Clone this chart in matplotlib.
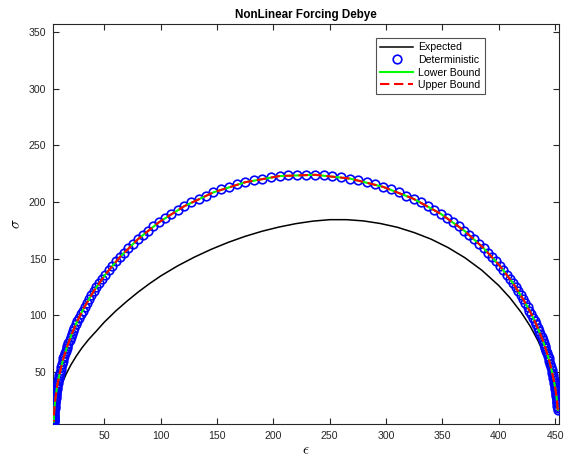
import matplotlib
matplotlib.use("Agg")
import matplotlib.pyplot as plt

plt.rcParams['font.family'] = ['Liberation Sans', 'DejaVu Sans']
plt.rcParams['mathtext.fontset'] = 'cm'

# Deterministic Debye response (epsilon, sigma), from the low-frequency end to the high-frequency end
det_eps = [452.4, 452.3, 452.1,
           451.9, 451.8, 451.6, 451.5, 451.3, 451.2, 451.0, 450.8, 450.5, 450.3,
           450.0, 449.7, 449.3, 448.9, 448.5, 448.0, 447.5, 446.9, 446.3, 445.6,
           444.9, 444.3, 443.7, 443.0, 442.3, 441.5, 440.7, 439.9, 439.0, 438.0,
           436.9, 435.8, 434.6, 433.3, 432.0, 430.5, 429.0, 427.3, 425.6, 423.7,
           421.7, 419.6, 417.4, 415.1, 412.6, 409.9, 407.1, 404.1, 401.0, 397.7,
           394.2, 390.5, 386.7, 382.6, 378.4, 373.9, 369.3, 364.4, 359.3, 354.0,
           348.5, 342.8, 336.9, 330.8, 324.4, 317.9, 311.2, 304.4, 297.3, 290.1,
           282.8, 275.4, 267.8, 260.2, 252.4, 244.7, 236.8, 229.0, 221.2, 213.3,
           205.6, 197.9, 190.2, 182.6, 175.2, 167.9, 160.7, 153.7, 146.8, 140.1,
           133.6, 127.3, 121.1, 115.2, 109.5, 104.0, 98.7, 93.6, 88.8, 84.1,
           79.6, 75.4, 71.3, 67.5, 63.8, 60.3, 57.0, 53.9, 50.9, 48.1,
           45.5, 43.0, 40.6, 38.4, 36.3, 34.3, 32.4, 30.7, 29.0, 27.5,
           26.0, 24.7, 23.4, 22.2, 21.1, 20.0, 19.1, 18.1, 17.3, 16.5,
           15.7, 15.0, 14.3, 13.7, 13.1,
           12.4, 11.7, 11.1, 10.5, 10.0, 9.5, 9.1, 8.7, 8.3, 8.0,
           7.7, 7.5, 7.3, 7.0, 6.8, 6.7, 6.5, 6.4, 6.2, 6.1,
           5.9, 5.8, 5.6, 5.5, 5.4, 5.3, 5.3, 5.2, 5.2, 5.2, 5.1, 5.1, 5.1]
det_sigma = [16.6, 18.3, 20.2,
             22.4, 23.5, 24.7, 26.0, 27.3, 28.7, 30.1, 31.7, 33.3, 34.9,
             36.7, 38.6, 40.5, 42.6, 44.7, 46.9, 49.3, 51.7, 54.3, 57.0,
             59.8, 61.9, 64.0, 66.2, 68.4, 70.7, 73.1, 75.6, 78.1, 80.7,
             83.4, 86.1, 88.9, 91.8, 94.8, 97.8, 101.0, 104.1, 107.4, 110.7,
             114.1, 117.6, 121.2, 124.8, 128.4, 132.1, 135.9, 139.7, 143.5, 147.4,
             151.3, 155.2, 159.1, 163.0, 166.9, 170.8, 174.7, 178.5, 182.2, 185.9,
             189.5, 193.0, 196.3, 199.6, 202.7, 205.6, 208.4, 211.0, 213.3, 215.5,
             217.4, 219.2, 220.6, 221.8, 222.8, 223.5, 223.9, 224.0, 223.9, 223.5,
             222.8, 221.8, 220.6, 219.2, 217.4, 215.5, 213.3, 211.0, 208.4, 205.6,
             202.7, 199.6, 196.3, 193.0, 189.5, 185.9, 182.2, 178.5, 174.7, 170.8,
             166.9, 163.0, 159.1, 155.2, 151.3, 147.4, 143.5, 139.7, 135.9, 132.1,
             128.4, 124.8, 121.2, 117.6, 114.1, 110.7, 107.4, 104.1, 101.0, 97.8,
             94.8, 91.8, 88.9, 86.1, 83.4, 80.7, 78.1, 75.6, 73.1, 70.7,
             68.4, 66.2, 64.0, 61.9, 59.8,
             57.0, 54.3, 51.7, 49.3, 46.9, 44.7, 42.6, 40.5, 38.6, 36.7,
             34.9, 33.3, 31.7, 30.1, 28.7, 27.3, 26.0, 24.7, 23.5, 22.4,
             20.2, 18.3, 16.6, 15.0, 13.6, 12.3, 11.1, 10.1, 9.1, 8.2, 7.5, 6.8, 6.1]

# Lower and upper bounds of the stochastic response
bound_eps = [452.4, 451.9, 451.2, 450.3, 448.9, 446.9, 444.9, 442.3, 439.0, 434.6,
             429.0, 421.7, 412.6, 401.0, 386.7, 369.3, 348.5, 324.4, 297.3, 267.8,
             236.8, 205.6, 175.2, 146.8, 121.1, 98.7, 79.6, 63.8, 50.9, 40.6,
             32.4, 26.0, 21.1, 17.3, 14.3, 12.4, 10.0, 8.3, 7.3, 6.5,
             5.9, 5.5, 5.2, 5.1]
lower_sigma = [16.6, 22.4, 28.7, 34.9, 42.6, 51.7, 59.8, 68.4, 78.1, 88.9,
               101.0, 114.1, 128.4, 143.5, 159.1, 174.7, 189.5, 202.7, 213.3, 220.6,
               223.9, 222.8, 217.4, 208.4, 196.3, 182.2, 166.9, 151.3, 135.9, 121.2,
               107.4, 94.8, 83.4, 73.1, 64.0, 57.0, 46.9, 38.6, 31.7, 26.0,
               20.2, 15.0, 10.1, 6.1]
upper_sigma = [16.6, 22.4, 28.7, 34.9, 42.6, 51.7, 59.8, 68.4, 78.1, 88.9,
               101.0, 114.1, 128.4, 143.5, 159.1, 174.7, 189.5, 202.7, 213.3, 220.6,
               223.9, 222.8, 217.4, 208.4, 196.3, 182.2, 166.9, 151.3, 135.9, 121.2,
               107.4, 94.8, 83.4, 73.1, 64.0, 57.0, 46.9, 38.6, 31.7, 26.0,
               20.2, 15.0, 10.1, 6.1]

# Expected response
exp_eps = [5.1, 5.4, 6.0, 7.0, 8.5, 10.5, 13.0, 16.0, 20.0, 25.0,
           30.0, 36.0, 43.0, 50.0, 60.0, 70.0, 80.0, 90.0, 100.0, 115.0,
           130.0, 145.0, 160.0, 175.0, 190.0, 205.0, 220.0, 235.0, 250.0, 265.0,
           280.0, 295.0, 310.0, 325.0, 340.0, 355.0, 370.0, 385.0, 400.0, 410.0,
           420.0, 428.0, 435.0, 441.0, 445.0, 448.0, 450.0, 451.5, 452.4]
exp_sigma = [4.6, 9.2, 14.6, 20.6, 27.2, 34.0, 40.9, 47.8, 55.6, 63.8,
             71.0, 78.5, 86.1, 93.9, 103.6, 112.3, 120.4, 127.8, 134.6, 143.5,
             151.3, 158.2, 164.3, 169.6, 174.1, 177.8, 180.8, 183.0, 184.3, 184.3,
             183.2, 180.9, 177.6, 172.9, 167.1, 159.7, 150.7, 139.7, 126.2, 115.3,
             102.4, 90.2, 77.2, 63.5, 52.1, 41.4, 32.1, 22.8, 14.4]

x_ticks = [50, 100, 150, 200, 250, 300, 350, 400, 450]
y_ticks = [50, 100, 150, 200, 250, 300, 350]

fig = plt.figure(figsize=(5.70, 4.61), dpi=100)
ax = fig.add_axes([0.0935, 0.0803, 0.8872, 0.8677])

ax.plot(exp_eps, exp_sigma, color='black', lw=1.1, label='Expected', zorder=2)
ax.plot(det_eps, det_sigma, linestyle='none', marker='o', markersize=6.2,
        markerfacecolor='none', markeredgecolor='#0000ff', markeredgewidth=1.2,
        label='Deterministic', zorder=3)
ax.plot(bound_eps, lower_sigma, color='#00ff00', lw=1.5, label='Lower Bound', zorder=4)
ax.plot(bound_eps, upper_sigma, color='#ff0000', lw=1.5, linestyle=(0, (4.5, 2.2)),
        label='Upper Bound', zorder=5)

ax.set_xlim(4.7, 453.5)
ax.set_ylim(4, 357)
ax.set_xticks(x_ticks)
ax.set_yticks(y_ticks)

axis_color = '#262626'
for side in ax.spines.values():
    side.set_color(axis_color)
    side.set_linewidth(0.8)
ax.tick_params(direction='in', length=4, width=0.8, colors=axis_color,
               labelsize=7.6, top=True, right=True, pad=5)

ax.set_title('NonLinear Forcing Debye', fontsize=8.4, fontweight='bold', pad=4)
ax.set_xlabel(r'$\epsilon$', fontsize=11, labelpad=2)
ax.set_ylabel(r'$\sigma$', fontsize=11, labelpad=4)

leg = ax.legend(loc='upper left', bbox_to_anchor=(376 / 570, 1 - 38 / 461),
                bbox_transform=fig.transFigure, borderaxespad=0,
                fontsize=7.6, frameon=True, fancybox=False, edgecolor='#262626',
                handlelength=3.1, handletextpad=0.5, labelspacing=0.25,
                borderpad=0.4)
leg.get_frame().set_linewidth(0.8)

fig.savefig('out.png', dpi=100, facecolor='white')
